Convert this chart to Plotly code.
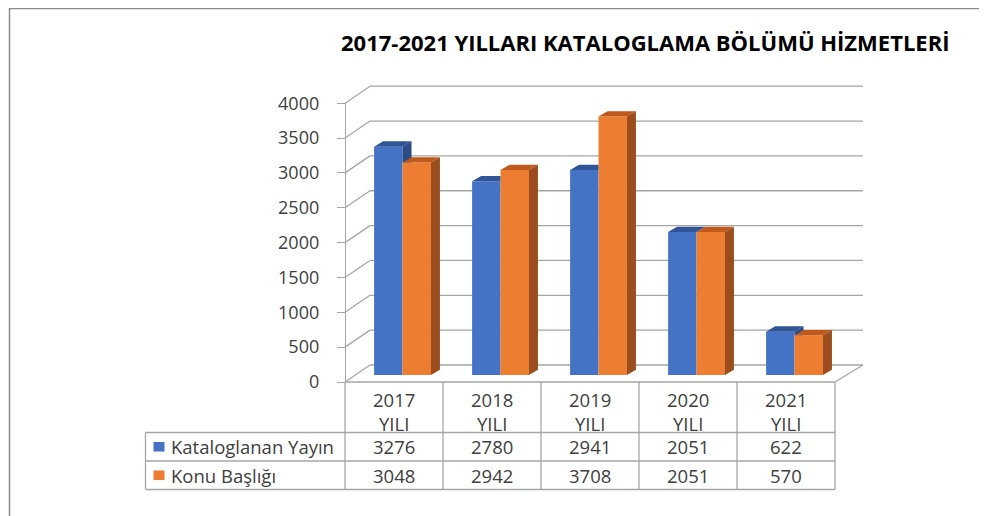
import plotly.graph_objects as go

# ---------------- data ----------------
years = ["2017", "2018", "2019", "2020", "2021"]
year_suffix = "YILI"
series_names = ["Kataloglanan Yayın", "Konu Başlığı"]
katalog = [3276, 2780, 2941, 2051, 622]
konu = [3048, 2942, 3708, 2051, 570]
y_ticks = [0, 500, 1000, 1500, 2000, 2500, 3000, 3500, 4000]
title_text = "2017-2021 YILLARI KATALOGLAMA BÖLÜMÜ HİZMETLERİ"

# ---------------- style / geometry ----------------
W, H = 987, 516
OX, OY = -8, -8        # page body margin compensation
FONT = "Open Sans"
TXT = "#404040"
GRID = "#A6A6A6"
BLUE, BLUE_TOP, BLUE_SIDE = "#4472C4", "#2F5597", "#2B4C86"
ORNG, ORNG_TOP, ORNG_SIDE = "#ED7D31", "#BF5A1C", "#9C4D1D"

PX_PER_CAT = 98.0      # px per category
CAT0_PX = 404.0        # px of first category centre (bar plane)
PX_PER_UNIT = 0.0697   # px per value unit
BASE_PX = 375.0        # px of value 0 (bar plane)

X_RANGE = [-0.8, 5.0]
Y_RANGE = [-200, 4300]

def xpx(c):
    return CAT0_PX + c * PX_PER_CAT

def ypx(v):
    return BASE_PX - v * PX_PER_UNIT

def xp(px):
    return (px + OX) / W

def yp(py):
    return 1 - (py + OY) / H

xdom = [xp(xpx(X_RANGE[0])), xp(xpx(X_RANGE[1]))]
ydom = [yp(ypx(Y_RANGE[0])), yp(ypx(Y_RANGE[1]))]

# depth offsets (in data units)
D_X = 9 / PX_PER_CAT          # bar depth, x
D_V = 5.3 / PX_PER_UNIT       # bar depth, value
FRONT_DX, FRONT_DV = -10 / PX_PER_CAT, -7 / PX_PER_UNIT
BACK_DX, BACK_DV = 15 / PX_PER_CAT, 10 / PX_PER_UNIT

BW = 0.29
OFF_B, OFF_O = -0.305, -0.015

fig = go.Figure()
xs = list(range(len(years)))

fig.add_trace(go.Bar(x=xs, y=katalog, width=BW, offset=OFF_B, name=series_names[0],
                     marker=dict(color=BLUE, line=dict(width=0)), showlegend=False,
                     hovertemplate="%{y}<extra>" + series_names[0] + "</extra>"))
fig.add_trace(go.Bar(x=xs, y=konu, width=BW, offset=OFF_O, name=series_names[1],
                     marker=dict(color=ORNG, line=dict(width=0)), showlegend=False,
                     hovertemplate="%{y}<extra>" + series_names[1] + "</extra>"))

# 3D faces
bt_x, bt_y, bs_x, bs_y, ot_x, ot_y, os_x, os_y = [], [], [], [], [], [], [], []
for i, (bv, ov) in enumerate(zip(katalog, konu)):
    x0 = i + OFF_B
    x1 = x0 + BW
    x2 = x1 + BW
    # blue top (clipped by orange front face)
    if ov <= bv:
        px_ = [x0, x1, x1 + D_X, x0 + D_X, x0]
        py_ = [bv, bv, bv + D_V, bv + D_V, bv]
    elif ov >= bv + D_V:
        px_ = [x0, x1, x1, x0 + D_X, x0]
        py_ = [bv, bv, bv + D_V, bv + D_V, bv]
    else:
        xc = x1 + (ov - bv) / D_V * D_X
        px_ = [x0, x1, x1, xc, x1 + D_X, x0 + D_X, x0]
        py_ = [bv, bv, ov, ov, bv + D_V, bv + D_V, bv]
    bt_x += px_ + [None]
    bt_y += py_ + [None]
    # blue side (only the part above orange bar)
    if bv > ov:
        bs_x += [x1, x1, x1 + D_X, x1 + D_X, x1, None]
        bs_y += [ov, bv, bv + D_V, ov, ov, None]
    # orange top & side
    ot_x += [x1, x2, x2 + D_X, x1 + D_X, x1, None]
    ot_y += [ov, ov, ov + D_V, ov + D_V, ov, None]
    os_x += [x2, x2, x2 + D_X, x2 + D_X, x2, None]
    os_y += [0, ov, ov + D_V, D_V, 0, None]

for fx, fy, col in [(bt_x, bt_y, BLUE_TOP), (bs_x, bs_y, BLUE_SIDE),
                    (ot_x, ot_y, ORNG_TOP), (os_x, os_y, ORNG_SIDE)]:
    if fx:
        fig.add_trace(go.Scatter(x=fx, y=fy, mode="lines", fill="toself", fillcolor=col,
                                 line=dict(width=0, color=col), hoverinfo="skip",
                                 showlegend=False))

# invisible trace to activate the front value axis
fig.add_trace(go.Scatter(x=[0], y=[0], yaxis="y2", mode="markers",
                         marker=dict(opacity=0), hoverinfo="skip", showlegend=False))

shapes = []
def dline(x0, y0, x1, y1, width=1.3, color=GRID):
    shapes.append(dict(type="line", xref="x", yref="y", x0=x0, y0=y0, x1=x1, y1=y1,
                       line=dict(color=color, width=width), layer="below"))

def pline(x0, y0, x1, y1, width=1.3, color=GRID):
    shapes.append(dict(type="line", xref="paper", yref="paper", x0=xp(x0), y0=yp(y0),
                       x1=xp(x1), y1=yp(y1), line=dict(color=color, width=width)))

n = len(years)
fl = -0.5 + FRONT_DX          # front-left
fr = n - 0.5 + FRONT_DX       # front-right
bl = -0.5 + BACK_DX           # back-left
br = n - 0.5 + BACK_DX + 0.03 # back-right
for v in y_ticks:
    dline(bl, v + BACK_DV, br, v + BACK_DV)            # back wall
    dline(fl, v + FRONT_DV, bl, v + BACK_DV)           # left wall diagonal
# floor
dline(fl, FRONT_DV, fr, FRONT_DV)
dline(fr, FRONT_DV, br, BACK_DV)

# ---- data table ----
col_px = [xpx(i - 0.5 + FRONT_DX) for i in range(n + 1)]
top_px = ypx(FRONT_DV)
row1, row2, row3 = 432.5, 461, 489.5
left_px = 145.5
for cx in col_px:
    pline(cx, top_px, cx, row3)
pline(left_px, row1, left_px, row3)
for ry in (row1, row2, row3):
    pline(left_px, ry, col_px[-1], ry)

annotations = []
TSIZE = 18.5
def ann(x, y, text, size=TSIZE, xanchor="center", bold=False, color=TXT, family=FONT):
    annotations.append(dict(xref="paper", yref="paper", x=xp(x), y=yp(y), text=text,
                            showarrow=False, xanchor=xanchor, yanchor="middle",
                            font=dict(family=family, size=size, color=color,
                                      weight="bold" if bold else "normal")))

for i in range(n):
    cx = (col_px[i] + col_px[i + 1]) / 2
    ann(cx, 411.5, years[i] + "<br>" + year_suffix)
    ann(cx, (row1 + row2) / 2, str(katalog[i]))
    ann(cx, (row2 + row3) / 2, str(konu[i]))

# legend keys in the table
for (ry0, ry1), col, name in [((row1, row2), BLUE, series_names[0]),
                              ((row2, row3), ORNG, series_names[1])]:
    cy = (ry0 + ry1) / 2
    shapes.append(dict(type="rect", xref="paper", yref="paper",
                       x0=xp(153.5), x1=xp(164.5), y0=yp(cy - 4.8), y1=yp(cy + 4.8),
                       fillcolor=col, line=dict(width=0)))
    ann(169, cy, name, xanchor="left")

# title
ann(645, 42, title_text, size=22, bold=True, color="#000000")

# outer frame (top and left edges)
shapes.append(dict(type="line", xref="paper", yref="paper", x0=xp(9.5), x1=1, y0=0.999, y1=0.999,
                   line=dict(color="#8C8C8C", width=1.5)))
pline(9.5, 8, 9.5, H + 10, width=1.5, color="#8C8C8C")

fig.update_layout(
    template="none",
    width=W, height=H, margin=dict(l=0, r=0, t=0, b=0, pad=0, autoexpand=False),
    paper_bgcolor="white", plot_bgcolor="rgba(0,0,0,0)",
    barmode="overlay", showlegend=False,
    xaxis=dict(domain=xdom, range=X_RANGE, visible=False, fixedrange=True, automargin=False),
    yaxis=dict(domain=ydom, range=Y_RANGE, visible=False, fixedrange=True, automargin=False),
    yaxis2=dict(domain=[yp(ypx(FRONT_DV)), yp(ypx(4000 + FRONT_DV))], range=[0, 4000],
                anchor="free", automargin=False,
                position=xp(xpx(-0.5 + FRONT_DX)), tickvals=y_ticks,
                ticktext=[str(t) for t in y_ticks], showgrid=False, zeroline=False,
                showline=True, linecolor=GRID, linewidth=1.3, ticks="outside",
                ticklen=8, tickcolor=GRID, tickwidth=1.3, ticklabelstandoff=14,
                tickfont=dict(family=FONT, size=18, color=TXT), fixedrange=True),
    shapes=shapes, annotations=annotations,
)

fig.write_html("out.html")
